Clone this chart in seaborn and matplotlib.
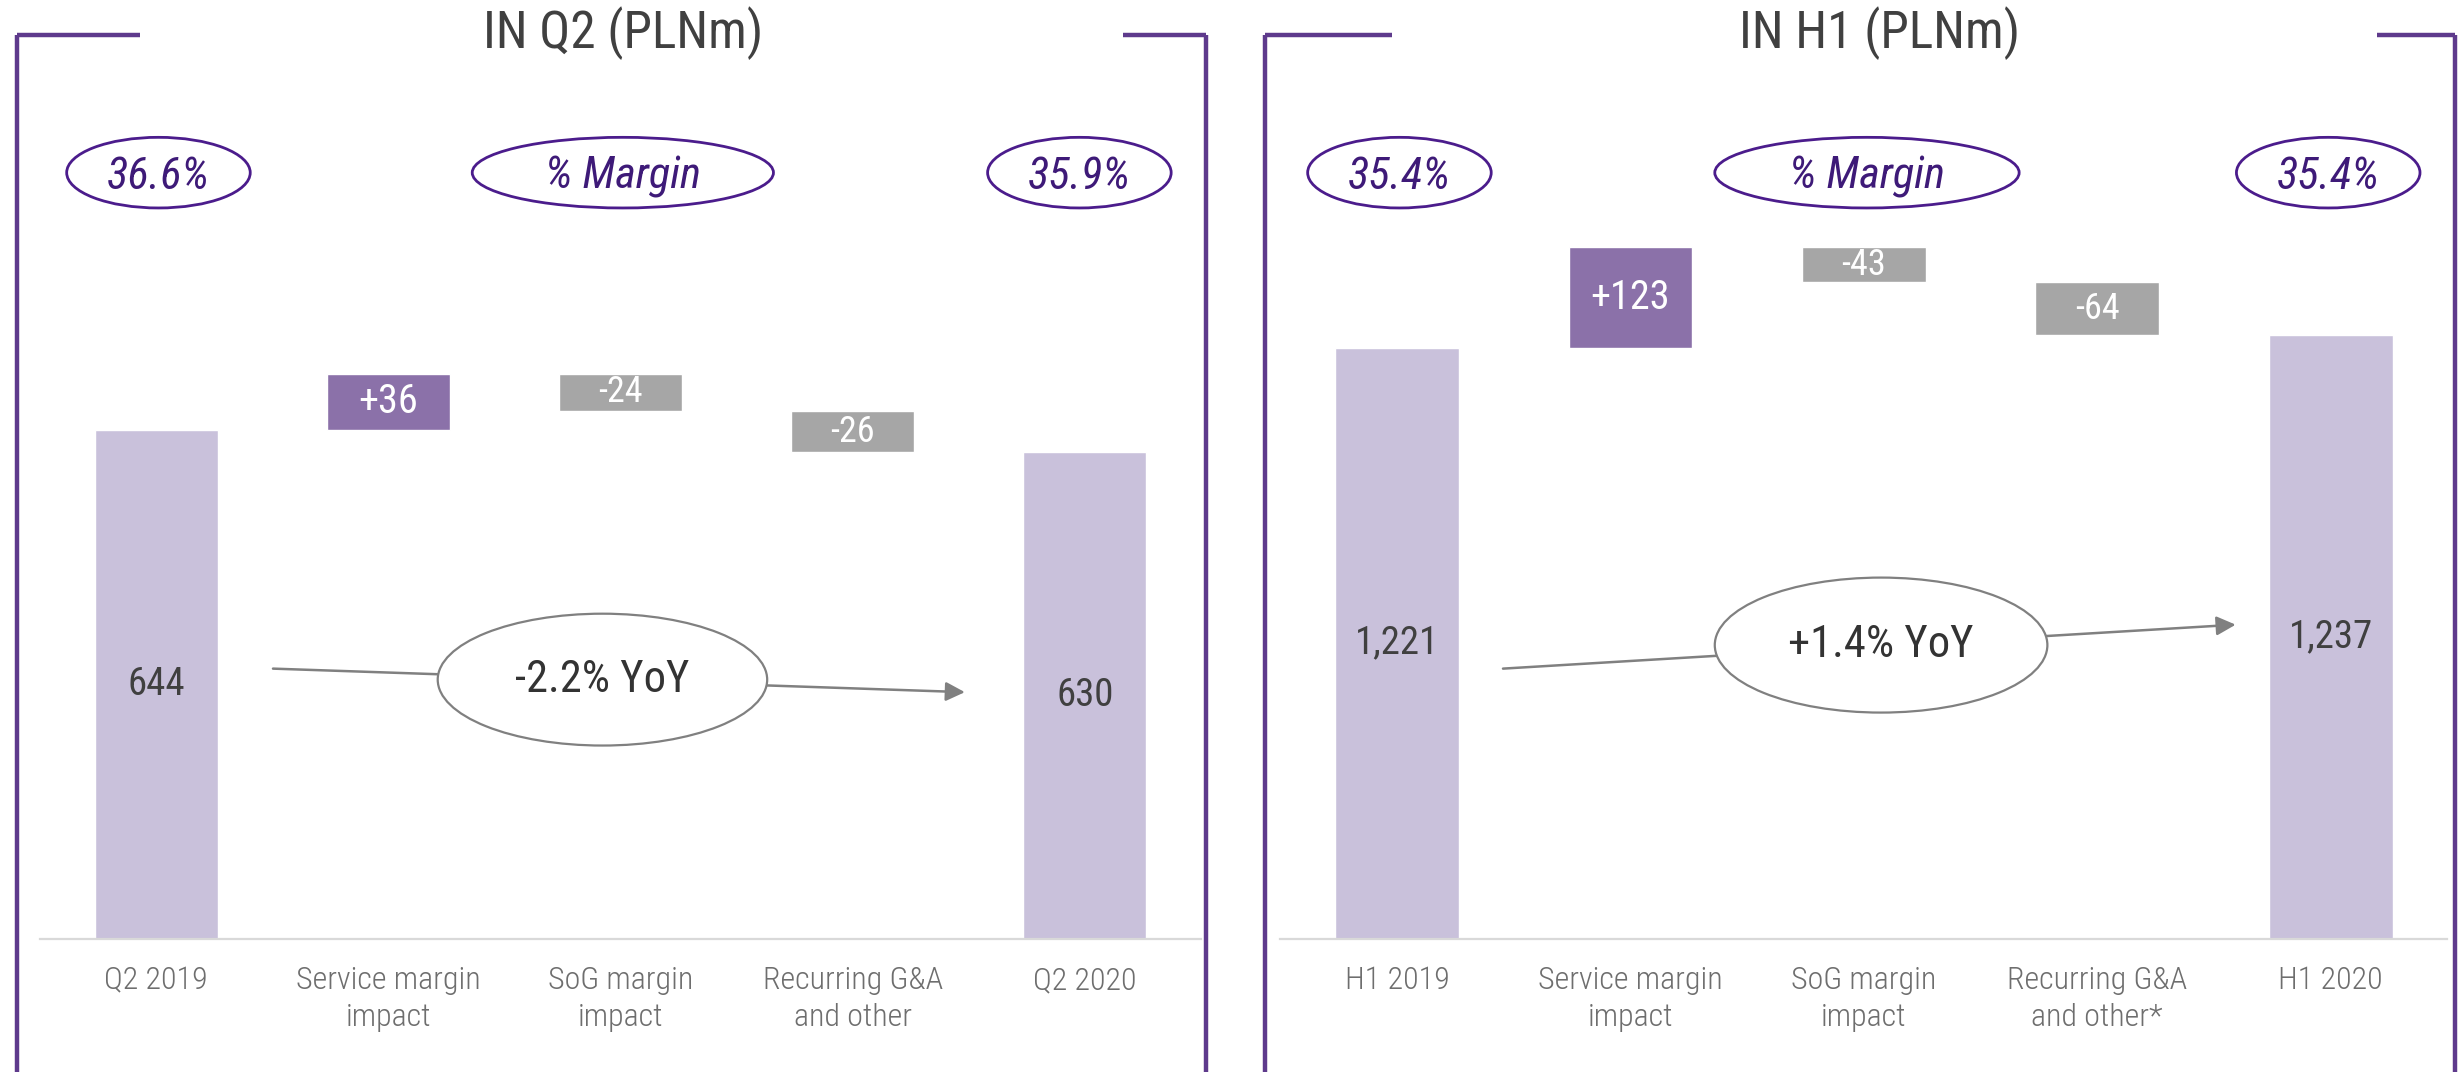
import numpy as np
import pandas as pd
import matplotlib
matplotlib.use("Agg")
import matplotlib.pyplot as plt
import seaborn as sns
from matplotlib.patches import Ellipse, FancyArrowPatch
from matplotlib.lines import Line2D

# data
q2_labels = ["Q2 2019", "Service margin\nimpact", "SoG margin\nimpact", "Recurring G&A\nand other", "Q2 2020"]
q2_values = [644, 36, -24, -26, 630]
q2_margins = ["36.6%", "35.9%"]
q2_yoy = "-2.2% YoY"
q2_title = "IN Q2 (PLNm)"

h1_labels = ["H1 2019", "Service margin\nimpact", "SoG margin\nimpact", "Recurring G&A\nand other*", "H1 2020"]
h1_values = [1221, 123, -43, -64, 1237]
h1_margins = ["35.4%", "35.4%"]
h1_yoy = "+1.4% YoY"
h1_title = "IN H1 (PLNm)"

total_col = "#C9C1DB"
pos_col = "#8B71A9"
neg_col = "#A6A6A6"
frame_col = "#5E3A8C"
purple_txt = "#3E1A78"
ell_col = "#4B1C8C"

sns.set_style("white")
plt.rcParams["font.family"] = ["Roboto Condensed", "DejaVu Sans"]
plt.rcParams["font.weight"] = "light"

fig = plt.figure(figsize=(24.6, 10.72), dpi=100)

# helpers: positions measured on a 1568x683 copy
def fx(p):
    return p / 1568
def fy(p):
    return 1 - p / 683


def waterfall(ax, labels, values, ylim):
    df = pd.DataFrame({"cat": labels,
                       "total": [values[0], 0, 0, 0, values[-1]]})
    sns.barplot(data=df, x="cat", y="total", color=total_col, saturation=1,
                width=0.53, ax=ax, errorbar=None)
    for i in [0, len(values) - 1]:
        v = values[i]
        ax.text(i, (ylim[0] + v) / 2, f"{v:,}", ha="center", va="center",
                fontsize=28, color="#404040", weight="normal")
    run = values[0]
    for i, v in enumerate(values[1:-1], start=1):
        bottom = run if v > 0 else run + v
        ax.bar(i, abs(v), bottom=bottom, width=0.53,
               color=pos_col if v > 0 else neg_col)
        ax.text(i, bottom + abs(v) / 2, f"{v:+d}", ha="center", va="center",
                fontsize=29 if v > 0 else 26, color="white", weight="normal")
        run += v
    ax.set_ylim(*ylim)
    ax.set_xlim(-0.5, 4.5)
    ax.set_yticks([])
    ax.set_xlabel("")
    ax.set_ylabel("")
    sns.despine(ax=ax, left=True)
    ax.spines["bottom"].set_color("#D9D9D9")
    ax.spines["bottom"].set_linewidth(1.6)
    ax.tick_params(axis="x", length=0, pad=20, labelsize=23, labelcolor="#6E6E6E")
    for t in ax.get_xticklabels():
        t.set_linespacing(1.35)
    ax.patch.set_alpha(0)


ax1 = fig.add_axes([fx(25.5), 85 / 683, 740 / 1568, 598 / 683])
waterfall(ax1, q2_labels, q2_values, (320, 918))

ax2 = fig.add_axes([fx(816), 85 / 683, 744 / 1568, 598 / 683])
waterfall(ax2, h1_labels, h1_values, (497, 1647))


def frame(x0, x1, t0, t1):
    y = fy(22)
    kw = dict(color=frame_col, lw=3.2, solid_capstyle="butt")
    fig.add_artist(Line2D([fx(x0), fx(x0)], [y, 0], **kw))
    fig.add_artist(Line2D([fx(x1), fx(x1)], [y, 0], **kw))
    fig.add_artist(Line2D([fx(x0), fx(t0)], [y, y], **kw))
    fig.add_artist(Line2D([fx(t1), fx(x1)], [y, y], **kw))


def oval(cx, cy, w, h, text, edge, size, style, tcol, fill="none", lw=2.0,
         weight="normal", dy=0):
    e = Ellipse((fx(cx), fy(cy)), w / 1568, h / 683, transform=fig.transFigure,
                facecolor=fill, edgecolor=edge, lw=lw, zorder=5)
    fig.add_artist(e)
    fig.text(fx(cx), fy(cy + dy), text, ha="center", va="center", fontsize=size,
             style=style, weight=weight, color=tcol, zorder=6)


def arrow(p0, p1):
    a = FancyArrowPatch((fx(p0[0]), fy(p0[1])), (fx(p1[0]), fy(p1[1])),
                        transform=fig.transFigure, arrowstyle="-|>",
                        mutation_scale=29, color="#808080", lw=1.8,
                        shrinkA=0, shrinkB=0, zorder=4)
    fig.add_artist(a)


# left panel decorations
frame(11, 769, 89, 716)
fig.text(fx(397), fy(21), q2_title, ha="center", va="center", fontsize=37,
         weight="normal", color="#404040")
oval(101, 110, 117, 45, q2_margins[0], ell_col, 32, "italic", purple_txt, dy=2.5)
oval(397, 110, 192, 45, "% Margin", ell_col, 32, "italic", purple_txt, dy=2.5)
oval(688, 110, 117, 45, q2_margins[1], ell_col, 32, "italic", purple_txt, dy=2.5)
arrow((174, 426), (615, 441))
oval(384, 433, 210, 84, q2_yoy, "#808080", 32, "normal", "#333333",
     fill="white", lw=1.6, weight="normal")

# right panel decorations
frame(806, 1565, 887, 1515)
fig.text(fx(1198), fy(21), h1_title, ha="center", va="center", fontsize=37,
         weight="normal", color="#404040")
oval(892, 110, 117, 45, h1_margins[0], ell_col, 32, "italic", purple_txt, dy=2.5)
oval(1190, 110, 194, 45, "% Margin", ell_col, 32, "italic", purple_txt, dy=2.5)
oval(1484, 110, 117, 45, h1_margins[1], ell_col, 32, "italic", purple_txt, dy=2.5)
arrow((958, 426), (1425, 398))
oval(1199, 411, 212, 86, h1_yoy, "#808080", 32, "normal", "#333333",
     fill="white", lw=1.6, weight="normal")

fig.savefig("out.png", dpi=100, facecolor="white")
